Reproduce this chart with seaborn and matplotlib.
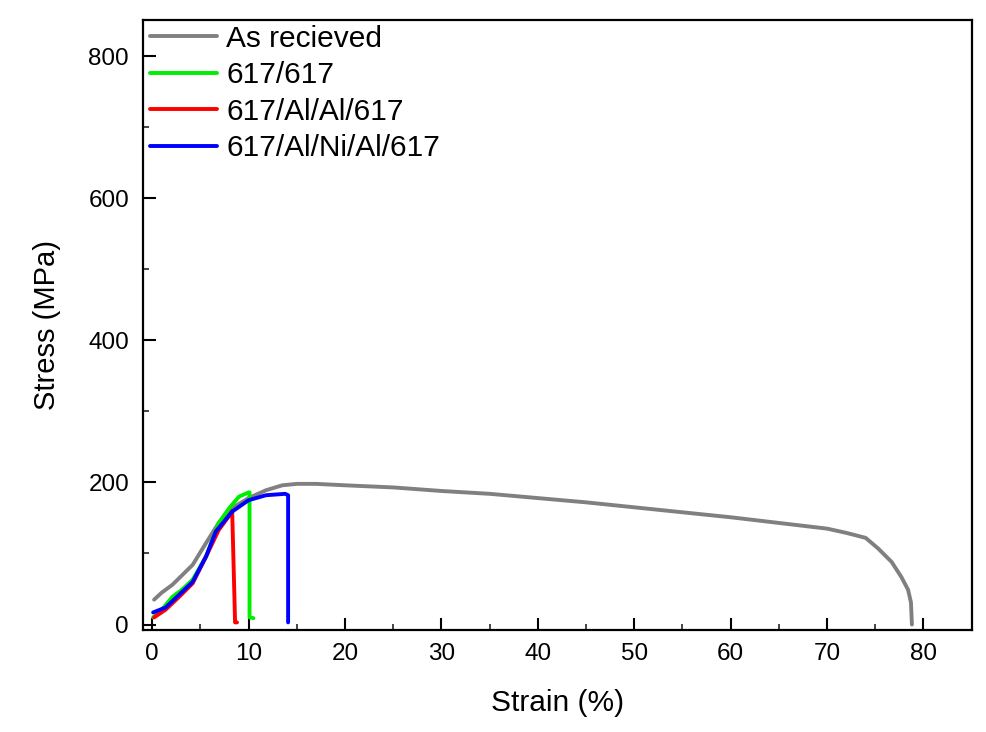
import numpy as np
import pandas as pd
import matplotlib
matplotlib.use("Agg")
import matplotlib.pyplot as plt
import seaborn as sns
from matplotlib.ticker import MultipleLocator

labels = ["As recieved", "617/617", "617/Al/Al/617", "617/Al/Ni/Al/617"]
colors = ["#808080", "#00ee00", "#ff0000", "#0000ff"]

asrec_x = [0.2, 1.0, 2.1, 3.0, 4.2, 5.6, 6.9, 8.3, 10.0, 11.8, 13.5, 15.0, 17.0, 20.0, 25.0, 30.0,
           35.0, 40.0, 45.0, 50.0, 55.0, 60.0, 65.0, 70.0, 72.0, 74.0, 75.3, 76.7, 77.7, 78.4, 78.7, 78.8]
asrec_y = [35, 45, 56, 68, 84, 115, 143, 164, 178, 189, 196, 198, 198, 196, 193, 188,
           184, 178, 172, 165, 158, 151, 143, 135, 129, 122, 107, 88, 67, 49, 31, 0]

g617_x = [0.1, 1.0, 2.1, 3.0, 4.2, 5.6, 6.9, 8.0, 9.0, 10.0, 10.1, 10.1, 10.5]
g617_y = [10, 21, 39, 48, 63, 96, 143, 164, 180, 186, 186, 10, 9]

al_x = [0.2, 1.4, 2.8, 4.2, 5.6, 6.9, 8.2, 8.3, 8.6, 8.8]
al_y = [10, 21, 39, 58, 96, 133, 157, 160, 3, 3]

ni_x = [0.1, 1.4, 2.8, 4.2, 5.6, 6.6, 8.3, 10.0, 11.8, 13.8, 14.1, 14.1]
ni_y = [17, 24, 42, 60, 96, 131, 159, 175, 182, 184, 182, 3]

xticks = [0, 10, 20, 30, 40, 50, 60, 70, 80]
yticks = [0, 200, 400, 600, 800]

frames = []
for lab, xs, ys in zip(labels, [asrec_x, g617_x, al_x, ni_x], [asrec_y, g617_y, al_y, ni_y]):
    frames.append(pd.DataFrame({"Strain": xs, "Stress": ys, "Sample": lab}))
df = pd.concat(frames, ignore_index=True)

sns.set_style("white")
plt.rcParams["font.family"] = ["Liberation Sans", "DejaVu Sans"]
plt.rcParams["text.color"] = "black"
plt.rcParams["axes.labelcolor"] = "black"

fig = plt.figure(figsize=(9.87, 7.32), dpi=100)
ax = fig.add_axes([143 / 987, 1 - 629.5 / 732, (971.7 - 143) / 987, (629.5 - 20) / 732])

sns.lineplot(data=df, x="Strain", y="Stress", hue="Sample", hue_order=labels,
             palette=colors, sort=False, estimator=None, units="Sample",
             linewidth=2.8, ax=ax)

ax.set_xlim(-0.95, 85)
ax.set_ylim(-7, 851)
ax.set_xticks(xticks)
ax.set_yticks(yticks)
ax.xaxis.set_minor_locator(MultipleLocator(5))
ax.yaxis.set_minor_locator(MultipleLocator(100))
ax.tick_params(axis="both", which="major", direction="in", length=9, width=1.5,
               labelsize=17.5, pad=10, colors="black", bottom=True, left=True, top=False, right=False)
ax.tick_params(axis="both", which="minor", direction="in", length=4.5, width=1.2,
               bottom=True, left=True, top=False, right=False)
for s in ax.spines.values():
    s.set_linewidth(1.6)
    s.set_color("black")

ax.set_xlabel("Strain (%)", fontsize=21.5, labelpad=17, color="black")
ax.set_ylabel("Stress (MPa)", fontsize=21, labelpad=20, color="black")

leg = ax.legend(loc="upper left", bbox_to_anchor=(0.008, 0.992), frameon=False,
                fontsize=21.5, handlelength=2.27, handletextpad=0.3, labelspacing=0.28,
                borderpad=0, borderaxespad=0)
for t in leg.get_texts():
    t.set_color("black")
for h in leg.get_lines():
    h.set_linewidth(2.8)

fig.savefig("out.png", dpi=100)
